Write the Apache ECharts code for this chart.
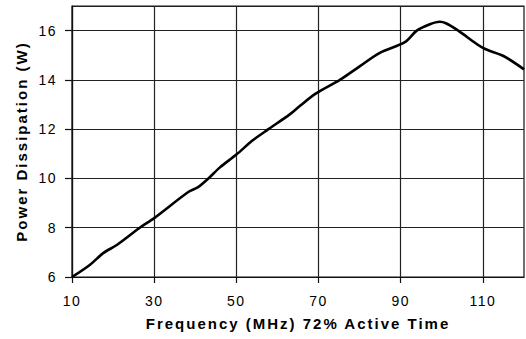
<!DOCTYPE html>
<html>
<head>
<meta charset="utf-8">
<style>
html,body{margin:0;padding:0;background:#fff;}
#c{width:526px;height:339px;}
#c svg text{letter-spacing:1.5px;}
#c svg text[style*="bold"]{letter-spacing:2px;}
</style>
<script src="https://cdn.jsdelivr.net/npm/echarts@6/dist/echarts.min.js"></script>
</head>
<body>
<div id="c"></div>
<script>
const freq  = [10, 14.4, 17.6, 20.9, 26.5, 30, 38.3, 40.7, 43.2, 46, 50, 54, 57.8, 63, 65.5, 69.4, 75.2, 80, 84.9, 91, 93.9, 97.1, 99.5, 101, 104, 110, 115, 120];
const power = [6, 6.5, 6.97, 7.3, 8.0, 8.39, 9.45, 9.65, 10.0, 10.45, 10.97, 11.55, 12.0, 12.6, 12.95, 13.45, 14.0, 14.55, 15.1, 15.53, 16.0, 16.26, 16.36, 16.3, 16.0, 15.3, 14.97, 14.43];
const xTicks = [10, 30, 50, 70, 90, 110];
const xTitle = 'Frequency (MHz) 72% Active Time';
const yTitle = 'Power Dissipation (W)';

const chart = echarts.init(document.getElementById('c'), null, {renderer: 'svg'});
const font = '"Liberation Sans", Arial, sans-serif';
chart.setOption({
  animation: false,
  backgroundColor: '#fff',
  grid: {left: 72, right: 2, top: 6, bottom: 62, show: true, borderColor: '#111', borderWidth: 1.2},
  xAxis: {
    type: 'value', min: 10, max: 120, interval: 20,
    name: xTitle, nameLocation: 'middle', nameGap: 39,
    nameTextStyle: {color: '#000', fontWeight: 'bold', fontSize: 15, fontFamily: font},
    axisLine: {show: true, lineStyle: {color: '#111', width: 1.2}},
    axisTick: {show: true, length: 6, customValues: xTicks, lineStyle: {color: '#111', width: 1.2}},
    axisLabel: {color: '#000', fontSize: 14, fontFamily: font, margin: 17, showMaxLabel: false},
    splitLine: {show: true, lineStyle: {color: '#222', width: 1.2}}
  },
  yAxis: {
    type: 'value', min: 6, max: 17, interval: 2,
    name: yTitle, nameLocation: 'middle', nameGap: 43, nameRotate: 90,
    nameTextStyle: {color: '#000', fontWeight: 'bold', fontSize: 15, fontFamily: font},
    axisLine: {show: true, lineStyle: {color: '#111', width: 1.2}},
    axisTick: {show: true, length: 7, lineStyle: {color: '#111', width: 1.2}},
    axisLabel: {color: '#000', fontSize: 14, fontFamily: font, margin: 15, showMaxLabel: false},
    splitLine: {show: true, lineStyle: {color: '#222', width: 1.2}}
  },
  series: [{
    type: 'line',
    data: freq.map((f, i) => [f, power[i]]),
    smooth: 0.3,
    showSymbol: false,
    lineStyle: {color: '#000', width: 2.6}
  }]
});
</script>
</body>
</html>
